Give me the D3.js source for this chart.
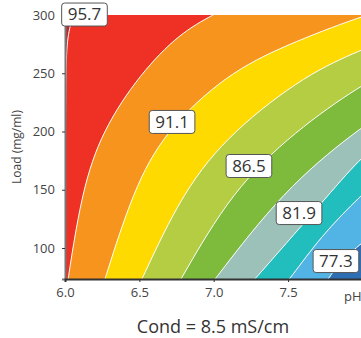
<!DOCTYPE html>
<html>
<head>
<meta charset="utf-8">
<script src="https://cdn.jsdelivr.net/npm/d3@7"></script>
<style>
  body { margin: 0; background: white; }
  svg { display: block; font-family: 'Open Sans', 'Noto Sans', sans-serif; }
</style>
</head>
<body>
<svg id="chart" width="361" height="338"></svg>
<script>
// tick values
const phTicks = [6.0, 6.5, 7.0, 7.5]
const loadTicks = [100, 150, 200, 250, 300]

// contour levels, from top-left to bottom-right
const levels = [95.7, 93.4, 91.1, 88.8, 86.5, 84.2, 81.9, 79.6, 77.3]
const bandColors = ['#c0272d', '#ee3124', '#f7941e', '#ffda00', '#b4cd43',
  '#7ebb3d', '#9cc1b9', '#22bdbd', '#52b3e5', '#2e6eb5']

// contour lines as [pH, load], bottom to top
const line957 = [[5.99, 140], [6.0, 158], [6.003, 184], [6.005, 244], [6.012, 280], [6.05, 298], [6.1, 312]]
const line934 = [[6.007, 60], [6.02, 73.4], [6.114, 149], [6.249, 200.4], [6.504, 249.4], [6.773, 284.5], [6.995, 300], [7.24, 317]]
const line911 = [[6.235, 60], [6.269, 73.4], [6.457, 149], [6.672, 200.4], [7.089, 249.4], [7.48, 274], [7.99, 299], [8.3, 310]]
const line888 = [[6.467, 60], [6.518, 73.4], [6.794, 149], [7.123, 200.4], [7.627, 249.4], [7.991, 270], [8.253, 283]]
const line865 = [[6.72, 60], [6.78, 73.4], [7.123, 149], [7.547, 200.4], [7.991, 240], [8.253, 257]]
const line842 = [[6.93, 60], [7.009, 73.4], [7.466, 149], [7.95, 200.4], [8.32, 231]]
const line819 = [[7.184, 60], [7.278, 73.4], [7.796, 149], [7.991, 178], [8.253, 205]]
const line796 = [[7.42, 60], [7.513, 73.4], [7.72, 110], [7.991, 145.5], [8.25, 175]]
const line773 = [[7.7, 60], [7.769, 73.4], [7.85, 88], [7.991, 104], [8.2, 125]]
const contourLines = [line957, line934, line911, line888, line865, line842, line819, line796, line773]

// inline labels
const labelText = ['95.7', '91.1', '86.5', '81.9', '77.3']
const labelPH = [6.131, 6.72, 7.237, 7.574, 7.822]
const labelLoad = [300.4, 208.2, 170.4, 130.0, 88.8]

const width = 361
const height = 338
const margin = { top: 15, left: 65, bottom: 59 }

const x = d3.scaleLinear().domain([6.0, 8.0]).range([margin.left, margin.left + 297.4])
const y = d3.scaleLinear().domain([73.4, 300]).range([height - margin.bottom, margin.top])

const svg = d3.select('#chart')

svg.append('clipPath')
  .attr('id', 'plot-clip')
  .append('rect')
  .attr('x', margin.left)
  .attr('y', margin.top)
  .attr('width', width - margin.left)
  .attr('height', y.range()[0] - margin.top)

const plot = svg.append('g').attr('clip-path', 'url(#plot-clip)')

// base band (above the top level)
plot.append('rect')
  .attr('x', margin.left)
  .attr('y', margin.top)
  .attr('width', width - margin.left)
  .attr('height', y.range()[0] - margin.top)
  .attr('fill', bandColors[0])

const line = d3.line()
  .x(d => x(d[0]))
  .y(d => y(d[1]))
  .curve(d3.curveBasis)

// each band covers everything beyond its line (toward low load / high pH)
contourLines.forEach((pts, i) => {
  const d = line(pts) +
    `L${x(9)},${y(320)}L${x(9)},${y(40)}L${x(pts[0][0])},${y(40)}Z`
  plot.append('path')
    .attr('d', d)
    .attr('fill', bandColors[i + 1])
})

contourLines.forEach(pts => {
  plot.append('path')
    .attr('d', line(pts))
    .attr('fill', 'none')
    .attr('stroke', 'white')
    .attr('stroke-width', 1)
})

// axes
const yAxis = svg.append('g')
  .attr('transform', `translate(${margin.left},0)`)
  .call(d3.axisLeft(y).tickValues(loadTicks).tickSize(3).tickPadding(7))
yAxis.select('.domain').attr('stroke', '#777').attr('stroke-width', 2)
yAxis.selectAll('.tick line').attr('stroke', '#333')
yAxis.selectAll('.tick text').attr('fill', '#444').attr('font-size', 13)
  .attr('font-family', "'Open Sans', sans-serif")

const xAxis = svg.append('g')
  .attr('transform', `translate(0,${y.range()[0]})`)
  .call(d3.axisBottom(x).tickValues(phTicks).tickFormat(d3.format('.1f')).tickSize(3).tickPadding(6))
xAxis.select('.domain').attr('stroke', '#333').attr('stroke-width', 2)
xAxis.selectAll('.tick line').attr('stroke', '#333')
xAxis.selectAll('.tick text').attr('fill', '#444').attr('font-size', 13)
  .attr('font-family', "'Open Sans', sans-serif")

svg.append('text')
  .attr('x', 344)
  .attr('y', y.range()[0] + 22)
  .attr('fill', '#444')
  .attr('font-size', 13)
  .text('pH')

svg.append('text')
  .attr('transform', `translate(21,${(margin.top + y.range()[0]) / 2}) rotate(-90)`)
  .attr('text-anchor', 'middle')
  .attr('fill', '#444')
  .attr('font-size', 12)
  .text('Load (mg/ml)')

svg.append('text')
  .attr('x', 213)
  .attr('y', 333)
  .attr('text-anchor', 'middle')
  .attr('fill', '#333')
  .attr('font-size', 18)
  .text('Cond = 8.5 mS/cm')

// contour labels
labelText.forEach((t, i) => {
  const g = svg.append('g')
    .attr('transform', `translate(${x(labelPH[i])},${y(labelLoad[i])})`)
  const txt = g.append('text')
    .attr('text-anchor', 'middle')
    .attr('dy', '0.35em')
    .attr('fill', '#333')
    .attr('font-size', 17)
    .text(t)
  const bb = txt.node().getBBox()
  g.insert('rect', 'text')
    .attr('x', -bb.width / 2 - 6)
    .attr('y', -11.5)
    .attr('width', bb.width + 12)
    .attr('height', 23)
    .attr('rx', 3)
    .attr('fill', 'white')
    .attr('stroke', '#555')
    .attr('stroke-width', 1)
})
</script>
</body>
</html>
